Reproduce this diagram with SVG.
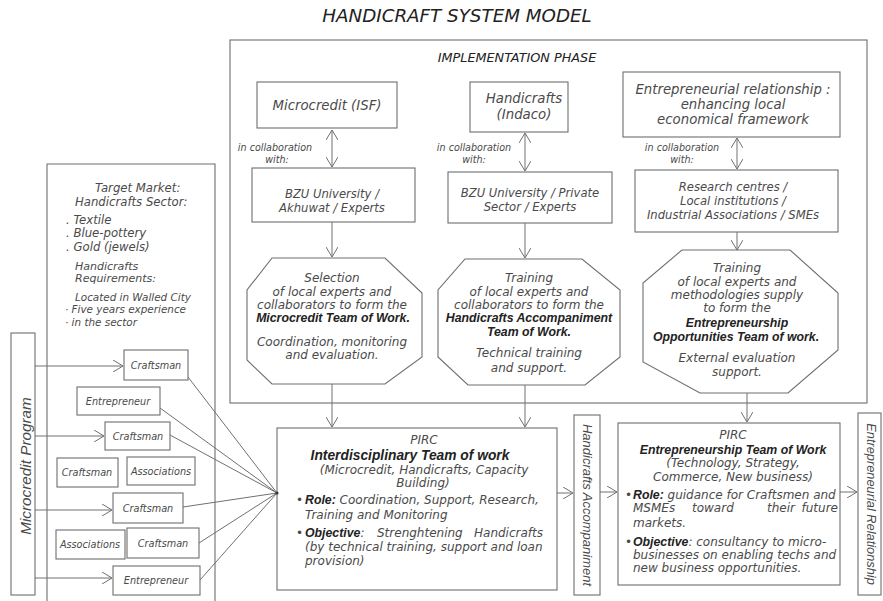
<svg xmlns="http://www.w3.org/2000/svg" width="883" height="601" viewBox="0 0 883 601">
<defs>
<style>
.box{fill:#fff;stroke:#6e6e6e;stroke-width:1.1}
.ln{fill:none;stroke:#707070;stroke-width:1}
.t{font-family:"DejaVu Sans",sans-serif;font-style:italic;fill:#4a4a4a;font-size:12px}
.m{text-anchor:middle}
.b{font-family:"Liberation Sans",Arial,sans-serif;font-weight:bold;fill:#222;font-size:12.3px}
.s{font-size:9.6px}
.n{font-size:9.7px}
.h{font-size:13.3px}
.bx{font-size:11.6px}
.tm{font-size:10.4px}
.tl{font-size:11.7px}
</style>
<marker id="ah" viewBox="0 0 10 12" refX="10" refY="6" markerWidth="10" markerHeight="12" markerUnits="userSpaceOnUse" orient="auto-start-reverse">
<path d="M0,0 L10,6 L0,12" fill="none" stroke="#707070" stroke-width="1"/>
</marker>
</defs>
<rect x="0" y="0" width="883" height="601" fill="#fff"/>

<text class="t m" x="457" y="22" style="font-size:18.3px;fill:#222">HANDICRAFT SYSTEM MODEL</text>

<g id="implementation-phase">
<rect class="box" x="230" y="40" width="637" height="363"/>
<text class="t m" x="517" y="62" style="font-size:12.8px;fill:#222">IMPLEMENTATION PHASE</text>
</g>

<g id="target-market">
<path class="box" d="M47,602 V164 H215 V602"/>
<text class="t tl" x="95" y="192">Target Market:</text>
<text class="t tl" x="75" y="206">Handicrafts Sector:</text>
<text class="t tl" x="66" y="224">. Textile</text>
<text class="t tl" x="66" y="237">. Blue-pottery</text>
<text class="t tl" x="66" y="251">. Gold (jewels)</text>
<text class="t" x="75" y="270" style="font-size:11px">Handicrafts</text>
<text class="t" x="75" y="282" style="font-size:11px">Requirements:</text>
<text class="t tm" x="75" y="301">Located in Walled City</text>
<text class="t tm" x="65" y="313">· Five years experience</text>
<text class="t tm" x="65" y="326">· in the sector</text>
</g>

<g id="microcredit-program">
<rect class="box" x="11" y="333" width="24" height="262"/>
<text class="t m" transform="translate(31,466) rotate(-90)" style="font-family:'Liberation Sans',Arial,sans-serif;font-size:15.3px">Microcredit Program</text>
</g>

<g id="craftsman-1"><rect class="box" x="124" y="350" width="64" height="30"/><text class="t m n" x="156" y="369">Craftsman</text></g>
<g id="entrepreneur-1"><rect class="box" x="77" y="387" width="83" height="28"/><text class="t m n" x="118" y="405">Entrepreneur</text></g>
<g id="craftsman-2"><rect class="box" x="105" y="422" width="65" height="28"/><text class="t m n" x="138" y="440">Craftsman</text></g>
<g id="craftsman-3"><rect class="box" x="57" y="458" width="61" height="29"/><text class="t m n" x="87" y="476">Craftsman</text></g>
<g id="associations-1"><rect class="box" x="127" y="457" width="68" height="28"/><text class="t m n" x="161" y="475">Associations</text></g>
<g id="craftsman-4"><rect class="box" x="113" y="493" width="70" height="30"/><text class="t m n" x="148" y="512">Craftsman</text></g>
<g id="associations-2"><rect class="box" x="56" y="530" width="69" height="29"/><text class="t m n" x="90" y="548">Associations</text></g>
<g id="craftsman-5"><rect class="box" x="127" y="528" width="72" height="30"/><text class="t m n" x="163" y="547">Craftsman</text></g>
<g id="entrepreneur-2"><rect class="box" x="113" y="566" width="87" height="29"/><text class="t m n" x="156" y="584">Entrepreneur</text></g>

<g id="microcredit-isf"><rect class="box" x="257" y="82" width="140" height="46"/><text class="t m h" x="327" y="110">Microcredit (ISF)</text></g>
<g id="handicrafts-indaco"><rect class="box" x="470" y="82" width="98" height="50"/><text class="t m h" x="524" y="103">Handicrafts</text><text class="t m h" x="524" y="119">(Indaco)</text></g>
<g id="entrepreneurial-relationship-box"><rect class="box" x="623" y="72" width="217" height="65"/>
<text class="t m h" x="733" y="94">Entrepreneurial relationship :</text>
<text class="t m h" x="733" y="109">enhancing local</text>
<text class="t m h" x="733" y="124">economical framework</text></g>

<g id="collab-labels">
<text class="t m s" x="275" y="151">in collaboration</text><text class="t m s" x="277" y="163">with:</text>
<text class="t m s" x="474" y="151">in collaboration</text><text class="t m s" x="474" y="163">with:</text>
<text class="t m s" x="682" y="151">in collaboration</text><text class="t m s" x="682" y="163">with:</text>
</g>

<g id="bzu-akhuwat"><rect class="box" x="252" y="168" width="163" height="54"/>
<text class="t m bx" x="332" y="198">BZU University /</text><text class="t m bx" x="332" y="212">Akhuwat / Experts</text></g>
<g id="bzu-private"><rect class="box" x="448" y="172" width="164" height="51"/>
<text class="t m bx" x="530" y="197">BZU University / Private</text><text class="t m bx" x="530" y="211">Sector / Experts</text></g>
<g id="research-centres"><rect class="box" x="635" y="170" width="203" height="62"/>
<text class="t m bx" x="733" y="191">Research centres /</text><text class="t m bx" x="733" y="205">Local institutions /</text><text class="t m bx" x="733" y="219">Industrial Associations / SMEs</text></g>

<g id="microcredit-team">
<polygon class="box" points="272,258 385,258 422,293 422,357 385,384 272,384 247,360 247,290"/>
<text class="t m" x="332" y="282">Selection</text>
<text class="t m" x="332" y="296">of local experts and</text>
<text class="t m" x="332" y="309">collaborators to form the</text>
<text class="t m b" x="333" y="322">Microcredit Team of Work.</text>
<text class="t m" x="332" y="346">Coordination, monitoring</text>
<text class="t m" x="332" y="359">and evaluation.</text>
</g>
<g id="handicrafts-team">
<polygon class="box" points="465,259 582,259 620,290 620,357 585,385 468,385 438,357 438,290"/>
<text class="t m" x="529" y="282">Training</text>
<text class="t m" x="529" y="296">of local experts and</text>
<text class="t m" x="529" y="309">collaborators to form the</text>
<text class="t m b" x="529" y="322">Handicrafts Accompaniment</text>
<text class="t m b" x="529" y="336">Team of Work.</text>
<text class="t m" x="529" y="357">Technical training</text>
<text class="t m" x="529" y="372">and support.</text>
</g>
<g id="entrepreneurship-team">
<polygon class="box" points="682,250 790,250 838,293 838,350 788,393 700,393 643,362 643,283"/>
<text class="t m" x="737" y="272">Training</text>
<text class="t m" x="737" y="286">of local experts and</text>
<text class="t m" x="737" y="299">methodologies supply</text>
<text class="t m" x="737" y="312">to form the</text>
<text class="t m b" x="737" y="327">Entrepreneurship</text>
<text class="t m b" x="736" y="341">Opportunities Team of work.</text>
<text class="t m" x="737" y="362">External evaluation</text>
<text class="t m" x="737" y="376">support.</text>
</g>

<g id="pirc-interdisciplinary">
<rect class="box" x="277" y="428" width="280" height="162"/>
<text class="t m" x="424" y="444">PIRC</text>
<text class="t m b" x="410" y="460" style="font-size:13.8px">Interdisciplinary Team of work</text>
<text class="t m" x="424" y="474">(Microcredit, Handicrafts, Capacity</text>
<text class="t m" x="423" y="487">Building)</text>
<text class="t" x="296" y="504">•</text>
<text class="t" x="305" y="504"><tspan class="b">Role:</tspan> Coordination, Support, Research,</text>
<text class="t" x="305" y="519">Training and Monitoring</text>
<text class="t" x="296" y="537">•</text>
<text class="t" x="305" y="537"><tspan class="b">Objective</tspan>:</text>
<text class="t" x="377" y="537">Strenghtening</text>
<text class="t" x="543" y="537" style="text-anchor:end">Handicrafts</text>
<text class="t" x="305" y="551">(by technical training, support and loan</text>
<text class="t" x="305" y="565">provision)</text>
</g>

<g id="handicrafts-accompaniment">
<rect class="box" x="574" y="415" width="26" height="180"/>
<text class="t m" transform="translate(583,505) rotate(90)" style="font-family:'Liberation Sans',Arial,sans-serif;font-size:13px">Handicrafts Accompaniment</text>
</g>

<g id="pirc-entrepreneurship">
<rect class="box" x="618" y="423" width="222" height="162"/>
<text class="t m" x="733" y="439">PIRC</text>
<text class="t m b" x="733" y="454">Entrepreneurship Team of Work</text>
<text class="t m" x="733" y="467">(Technology, Strategy,</text>
<text class="t m" x="733" y="481">Commerce, New business)</text>
<text class="t" x="625" y="499">•</text>
<text class="t" x="633" y="499"><tspan class="b">Role:</tspan> guidance for Craftsmen and</text>
<text class="t" x="633" y="512">MSMEs</text>
<text class="t" x="692" y="512">toward</text>
<text class="t" x="767" y="512">their</text>
<text class="t" x="838" y="512" style="text-anchor:end">future</text>
<text class="t" x="633" y="527">markets.</text>
<text class="t" x="625" y="546">•</text>
<text class="t" x="633" y="546"><tspan class="b">Objective</tspan>: consultancy to micro-</text>
<text class="t" x="633" y="559">businesses on enabling techs and</text>
<text class="t" x="633" y="572">new business opportunities.</text>
</g>

<g id="entrepreneurial-relationship">
<rect class="box" x="858" y="413" width="23" height="182"/>
<text class="t m" transform="translate(867,504) rotate(90)" style="font-family:'Liberation Sans',Arial,sans-serif;font-size:12.8px">Entrepreneurial Relationship</text>
</g>

<g id="connectors">
<line class="ln" x1="332" y1="130" x2="332" y2="167" marker-start="url(#ah)" marker-end="url(#ah)"/>
<line class="ln" x1="525" y1="133" x2="525" y2="171" marker-start="url(#ah)" marker-end="url(#ah)"/>
<line class="ln" x1="737" y1="138" x2="737" y2="169" marker-start="url(#ah)" marker-end="url(#ah)"/>
<line class="ln" x1="332" y1="222" x2="332" y2="257" marker-end="url(#ah)"/>
<line class="ln" x1="525" y1="223" x2="525" y2="258" marker-end="url(#ah)"/>
<line class="ln" x1="737" y1="232" x2="737" y2="250" marker-end="url(#ah)"/>
<line class="ln" x1="332" y1="384" x2="332" y2="427" marker-end="url(#ah)"/>
<line class="ln" x1="525" y1="385" x2="525" y2="427" marker-end="url(#ah)"/>
<line class="ln" x1="747" y1="393" x2="747" y2="422" marker-end="url(#ah)"/>
<line class="ln" x1="557" y1="493" x2="573" y2="493" marker-end="url(#ah)"/>
<line class="ln" x1="600" y1="492" x2="617" y2="492" marker-end="url(#ah)"/>
<line class="ln" x1="840" y1="492" x2="857" y2="492" marker-end="url(#ah)"/>
<line class="ln" x1="35" y1="366" x2="123" y2="366" marker-end="url(#ah)"/>
<line class="ln" x1="35" y1="436" x2="104" y2="436" marker-end="url(#ah)"/>
<line class="ln" x1="35" y1="510" x2="112" y2="510" marker-end="url(#ah)"/>
<line class="ln" x1="35" y1="578" x2="112" y2="578" marker-end="url(#ah)"/>
<line class="ln" x1="188" y1="377" x2="277" y2="493"/>
<line class="ln" x1="160" y1="408" x2="277" y2="493"/>
<line class="ln" x1="170" y1="435" x2="277" y2="493"/>
<line class="ln" x1="183" y1="507" x2="277" y2="493"/>
<line class="ln" x1="199" y1="543" x2="277" y2="493"/>
<line class="ln" x1="200" y1="580" x2="277" y2="493"/>
<circle cx="277" cy="493" r="1.6" fill="#333"/>
</g>
</svg>
